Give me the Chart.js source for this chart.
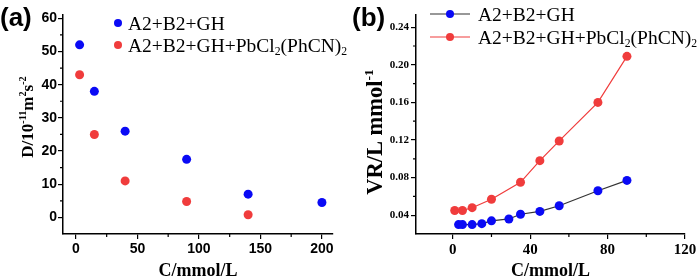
<!DOCTYPE html>
<html>
<head>
<meta charset="utf-8">
<script src="https://cdn.jsdelivr.net/npm/chart.js@4.4.1/dist/chart.umd.min.js"></script>
<style>
  body { margin: 0; background: #fff; width: 700px; height: 278px; overflow: hidden; position: relative; }
  .box { position: absolute; top: 0; width: 350px; height: 278px; }
</style>
</head>
<body>
<div class="box" style="left:0"><canvas id="chartA"></canvas></div>
<div class="box" style="left:350px"><canvas id="chartB"></canvas></div>
<script>
// panel (a): diffusion coefficient vs concentration
const concA1 = [3, 15, 40, 90, 140, 200];
const diffA1 = [52, 38, 26, 17.5, 7, 4.5];
const concA2 = [3, 15, 40, 90, 140];
const diffA2 = [43, 25, 11, 4.8, 0.8];
const xTicksA = [0, 50, 100, 150, 200];
const yTicksA = [0, 10, 20, 30, 40, 50, 60];
const xMinorA = [25, 75, 125, 175];
const yMinorA = [5, 15, 25, 35, 45, 55];

// panel (b): VR/L vs concentration
const concB1 = [3, 5, 10, 15, 20, 29, 35, 45, 55, 75, 90];
const vrB1 = [0.030, 0.030, 0.030, 0.031, 0.034, 0.036, 0.041, 0.044, 0.050, 0.066, 0.077];
const concB2 = [1, 5, 10, 20, 35, 45, 55, 75, 90];
const vrB2 = [0.045, 0.045, 0.048, 0.057, 0.075, 0.098, 0.119, 0.160, 0.209];
const xTicksB = [0, 40, 80, 120];
const yTicksB = [0.04, 0.08, 0.12, 0.16, 0.20, 0.24];
const xMinorB = [20, 60, 100];
const yMinorB = [0.06, 0.10, 0.14, 0.18, 0.22];

// text pieces: [text, 'sup' | 'sub' | undefined]
const label1 = [['A2+B2+GH']];
const label2 = [['A2+B2+GH+PbCl'], ['2', 'sub'], ['(PhCN)'], ['2', 'sub']];
const yTitleA = [['D/10'], ['-11', 'sup'], ['m'], ['2', 'sup'], ['s'], ['-2', 'sup']];
const yTitleB = [['VR/L mmol'], ['-1', 'sup']];
const xTitle = [['C/mmol/L']];

const BLUE = '#0a0af5';
const RED = '#f03c3c';
const SERIF = "'Liberation Serif', 'Times New Roman', serif";
const SANS = "'Liberation Sans', Arial, sans-serif";

function richWidth(ctx, parts, size, weight, family) {
  let w = 0;
  for (const [t, kind] of parts) {
    ctx.font = `${weight} ${kind ? size * 0.6 : size}px ${family}`;
    w += ctx.measureText(t).width;
  }
  return w;
}

function drawRich(ctx, parts, x, y, size, weight, family) {
  let cx = x;
  for (const [t, kind] of parts) {
    ctx.font = `${weight} ${kind ? size * 0.6 : size}px ${family}`;
    let dy = 0;
    if (kind === 'sup') dy = -size * 0.4;
    if (kind === 'sub') dy = size * 0.18;
    ctx.fillText(t, cx, y + dy);
    cx += ctx.measureText(t).width;
  }
}

const decor = {
  id: 'decor',
  afterDraw(chart, args, o) {
    const ctx = chart.ctx;
    const { x, y } = chart.scales;
    const area = chart.chartArea;
    ctx.save();
    ctx.fillStyle = '#000';
    ctx.strokeStyle = '#000';
    ctx.textBaseline = 'alphabetic';

    // minor ticks
    ctx.lineWidth = 1.2;
    ctx.beginPath();
    o.minorX.forEach(v => {
      const px = x.getPixelForValue(v);
      ctx.moveTo(px, area.bottom);
      ctx.lineTo(px, area.bottom + 3);
    });
    o.minorY.forEach(v => {
      const py = y.getPixelForValue(v);
      ctx.moveTo(area.left, py);
      ctx.lineTo(area.left - 3, py);
    });
    ctx.stroke();

    // panel letter
    ctx.font = `bold 26px ${SANS}`;
    ctx.fillText(o.panel, o.panelX, 26);

    // x title
    const xw = richWidth(ctx, xTitle, 18, 'bold', SERIF);
    drawRich(ctx, xTitle, (area.left + area.right) / 2 - xw / 2, 276, 18, 'bold', SERIF);

    // y title (rotated)
    ctx.save();
    ctx.translate(o.yTitleX, o.yTitleY);
    ctx.rotate(-Math.PI / 2);
    const yw = richWidth(ctx, o.yTitle, o.yTitleSize, 'bold', SERIF);
    drawRich(ctx, o.yTitle, -yw / 2, o.yTitleSize * 0.33, o.yTitleSize, 'bold', SERIF);
    ctx.restore();

    // legend
    o.legend.forEach((item, i) => {
      const ly = o.legendY[i];
      if (item.line) {
        ctx.strokeStyle = item.line;
        ctx.lineWidth = 1.2;
        ctx.beginPath();
        ctx.moveTo(o.legendDot - 20, ly);
        ctx.lineTo(o.legendDot + 20, ly);
        ctx.stroke();
      }
      ctx.fillStyle = item.color;
      ctx.beginPath();
      ctx.arc(o.legendDot, ly, 4, 0, Math.PI * 2);
      ctx.fill();
      ctx.fillStyle = '#000';
      drawRich(ctx, item.parts, o.legendText, ly + 6.5, 19.5, 'normal', SERIF);
    });
    ctx.restore();
  }
};

function axis(min, max, ticks, font, padding, fmt) {
  return {
    type: 'linear',
    min, max,
    afterBuildTicks: s => { s.ticks = ticks.map(v => ({ value: v })); },
    grid: { display: true, drawOnChartArea: false, drawTicks: true, tickLength: 5, color: '#000', lineWidth: 1.2 },
    border: { display: true, color: '#000', width: 1.5 },
    ticks: { color: '#000', font, padding, autoSkip: false, maxRotation: 0, callback: fmt }
  };
}

function makeChart(id, datasets, scales, padRight, decorOpts) {
  return new Chart(document.getElementById(id), {
    type: 'scatter',
    data: { datasets },
    options: {
      responsive: true,
      maintainAspectRatio: false,
      animation: false,
      layout: { padding: { top: 15, right: padRight, left: 0, bottom: 0 } },
      scales,
      plugins: { legend: { display: false }, tooltip: { enabled: false }, decor: decorOpts }
    },
    plugins: [decor]
  });
}

const pts = (xs, ys) => xs.map((v, i) => ({ x: v, y: ys[i] }));

const xA = axis(-10.5, 209, xTicksA, { family: SANS, size: 14, weight: 'bold' }, 2, v => v);
xA.afterFit = s => { s.height = 44; };
const yA = axis(-5, 61, yTicksA, { family: SANS, size: 14, weight: 'bold' }, 1, v => v);
yA.afterFit = s => { s.width = 63; };

makeChart('chartA', [
  { data: pts(concA1, diffA1), backgroundColor: BLUE, pointRadius: 4.5, pointBorderWidth: 0, showLine: false },
  { data: pts(concA2, diffA2), backgroundColor: RED, pointRadius: 4.5, pointBorderWidth: 0, showLine: false }
], { x: xA, y: yA }, 17, {
  panel: '(a)', panelX: 0,
  minorX: xMinorA, minorY: yMinorA,
  yTitle: yTitleA, yTitleX: 27, yTitleY: 117, yTitleSize: 17,
  legend: [{ color: BLUE, parts: label1 }, { color: RED, parts: label2 }],
  legendY: [23, 45], legendDot: 118, legendText: 128
});

const xB = axis(-19, 120, xTicksB, { family: SERIF, size: 15, weight: 'bold' }, 2, v => v);
xB.afterFit = s => { s.height = 44; };
const yB = axis(0.02, 0.253, yTicksB, { family: SERIF, size: 11, weight: 'bold' }, 2, v => v.toFixed(2));
yB.afterFit = s => { s.width = 66; };

makeChart('chartB', [
  { data: pts(concB1, vrB1), backgroundColor: BLUE, pointBackgroundColor: BLUE, pointRadius: 4.5,
    pointBorderWidth: 0, showLine: true, borderColor: '#333', borderWidth: 1.2, tension: 0 },
  { data: pts(concB2, vrB2), backgroundColor: RED, pointBackgroundColor: RED, pointRadius: 4.5,
    pointBorderWidth: 0, showLine: true, borderColor: RED, borderWidth: 1.2, tension: 0 }
], { x: xB, y: yB }, 15, {
  panel: '(b)', panelX: 2,
  minorX: xMinorB, minorY: yMinorB,
  yTitle: yTitleB, yTitleX: 25, yTitleY: 132, yTitleSize: 22.5,
  legend: [{ color: BLUE, line: '#333', parts: label1 }, { color: RED, line: RED, parts: label2 }],
  legendY: [14, 37], legendDot: 100, legendText: 128
});
</script>
</body>
</html>
